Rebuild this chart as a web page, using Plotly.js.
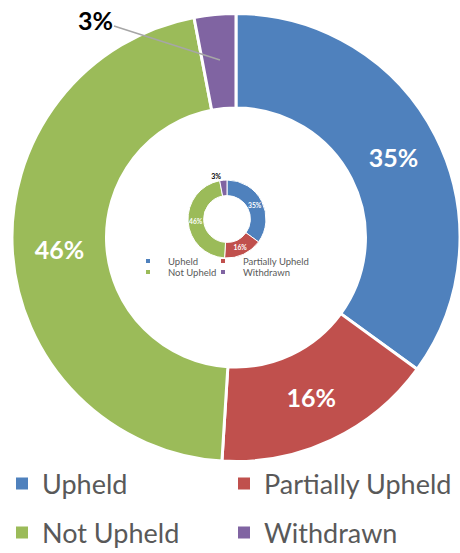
<!DOCTYPE html>
<html>
<head>
<meta charset="utf-8">
<script src="https://cdn.plot.ly/plotly-3.0.1.min.js"></script>
<style>
  html, body { margin: 0; padding: 0; background: #fff; }
  #chart { width: 460px; height: 553px; }
</style>
</head>
<body>
<div id="chart"></div>
<script>
document.addEventListener("DOMContentLoaded", function () {
    // Outcome share (%)
    const labels = ['Upheld', 'Partially Upheld', 'Not Upheld', 'Withdrawn'];
    const values = [35, 16, 46, 3];
    const colors = ['#4f81bd', '#c0504d', '#9bbb59', '#8064a2'];

    const font = 'Lato, "Open Sans", sans-serif';

    // big donut
    const mainPie = {
        type: 'pie',
        labels: labels,
        values: values,
        hole: 0.578,
        sort: false,
        direction: 'clockwise',
        marker: { colors: colors, line: { color: '#fff', width: 3 } },
        texttemplate: '%{value}%',
        textposition: ['inside', 'inside', 'inside', 'none'],
        insidetextorientation: 'horizontal',
        insidetextfont: { family: font, size: 25, color: '#fff', weight: 'bold' },
        domain: { x: [0.026, 1], y: [1 - 463 / 553, 1 - 12 / 553] },
        showlegend: false,
        hoverinfo: 'skip'
    };

    // small copy inside the hole
    const miniPie = {
        type: 'pie',
        labels: labels,
        values: values,
        hole: 0.6,
        sort: false,
        direction: 'clockwise',
        marker: { colors: colors, line: { color: '#fff', width: 1 } },
        texttemplate: '%{value}%',
        textposition: ['inside', 'inside', 'inside', 'outside'],
        insidetextorientation: 'horizontal',
        insidetextfont: { family: font, size: 7, color: '#fff', weight: 'bold' },
        outsidetextfont: { family: font, size: 7, color: '#000', weight: 'bold' },
        domain: { x: [188 / 460, 266 / 460], y: [1 - 258 / 553, 1 - 180 / 553] },
        showlegend: false,
        hoverinfo: 'skip'
    };

    // one legend box per entry, laid out as a 2x2 grid (big and small copy)
    const legendTraces = labels.map((name, i) => ({
        type: 'scatter', mode: 'markers', x: [null], y: [null], name: name,
        marker: { symbol: 'square', size: 12, color: colors[i] },
        legend: 'legend' + (i === 0 ? '' : i + 1),
        hoverinfo: 'skip'
    })).concat(labels.map((name, i) => ({
        type: 'scatter', mode: 'markers', x: [null], y: [null], name: name,
        marker: { symbol: 'square', size: 4, color: colors[i] },
        legend: 'legend' + (i + 5),
        hoverinfo: 'skip'
    })));

    const box = (x, y, size) => ({
        orientation: 'h', x: x / 460, xanchor: 'left', y: 1 - y / 553, yanchor: 'middle',
        font: { family: font, size: size, color: '#595959' },
        bgcolor: 'rgba(0,0,0,0)', borderwidth: 0, itemclick: false
    });

    const layout = {
        width: 460,
        height: 553,
        margin: { l: 0, r: 0, t: 0, b: 0, autoexpand: false },
        paper_bgcolor: '#fff',
        plot_bgcolor: '#fff',
        xaxis: { visible: false },
        yaxis: { visible: false },
        legend: box(2, 484, 27),
        legend2: box(224, 484, 27),
        legend3: box(2, 533, 27),
        legend4: box(224, 533, 27),
        legend5: box(128, 261, 9.5),
        legend6: box(203, 261, 9.5),
        legend7: box(128, 272, 9.5),
        legend8: box(203, 272, 9.5),
        annotations: [{
            text: values[3] + '%',
            x: 220 / 460, y: 1 - 60 / 553, xref: 'paper', yref: 'paper',
            showarrow: true, arrowhead: 0, arrowwidth: 1.5, arrowcolor: '#a6a6a6',
            ax: -125, ay: -40,
            font: { family: font, size: 25, color: '#000', weight: 'bold' }
        }]
    };

    Plotly.newPlot('chart', [mainPie, miniPie].concat(legendTraces), layout, { displayModeBar: false, staticPlot: true });
});
</script>
</body>
</html>
